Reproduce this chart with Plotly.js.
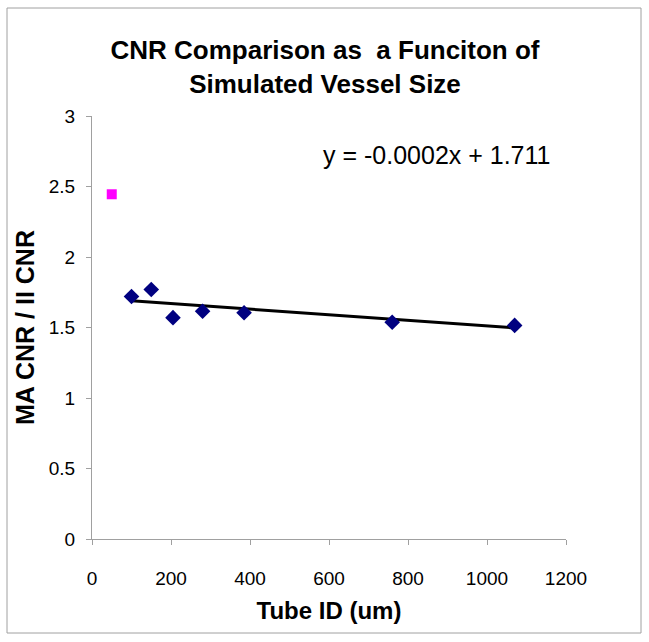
<!DOCTYPE html>
<html>
<head>
<meta charset="utf-8">
<script src="https://cdn.plot.ly/plotly-3.0.1.min.js"></script>
<style>html,body{margin:0;padding:0;background:#fff;}#chart{width:649px;height:642px;}</style>
</head>
<body>
<div id="chart"></div>
<script>
// Data
const tubeID = [100, 150, 205, 280, 385, 760, 1070];
const cnrRatio = [1.72, 1.77, 1.57, 1.615, 1.605, 1.537, 1.515];
const outlierX = [50];
const outlierY = [2.445];
const trendX = [100, 1070];
const trendY = [1.69, 1.497];
const equationText = 'y = -0.0002x + 1.711';
const xTicks = [0, 200, 400, 600, 800, 1000, 1200];
const yTicks = [0, 0.5, 1, 1.5, 2, 2.5, 3];

const font = 'Liberation Sans, Arial, sans-serif';

const traces = [
  {
    x: trendX, y: trendY, type: 'scatter', mode: 'lines',
    line: {color: '#000000', width: 3}, hoverinfo: 'skip', showlegend: false
  },
  {
    x: tubeID, y: cnrRatio, type: 'scatter', mode: 'markers',
    marker: {symbol: 'diamond', size: 12, color: '#000080', line: {width: 0}},
    showlegend: false
  },
  {
    x: outlierX, y: outlierY, type: 'scatter', mode: 'markers',
    marker: {symbol: 'square', size: 10, color: '#FF00FF', line: {width: 0}},
    showlegend: false
  }
];

const layout = {
  width: 649, height: 642,
  paper_bgcolor: '#ffffff', plot_bgcolor: '#ffffff',
  margin: {l: 92, r: 83, t: 116, b: 103},
  font: {family: font, color: '#000000'},
  title: {
    text: '<b>CNR Comparison as  a Funciton of<br>Simulated Vessel Size</b>',
    font: {family: font, size: 26, color: '#000000'},
    x: (325 - 92) / 474, xref: 'paper', xanchor: 'center',
    y: 1 - 59 / 642, yref: 'container', yanchor: 'middle'
  },
  xaxis: {
    range: [0, 1200], tickvals: xTicks, ticktext: xTicks.map(String),
    showgrid: false, zeroline: false, showline: true, linecolor: '#a0a0a0', linewidth: 1,
    ticks: 'outside', ticklen: 5, tickcolor: '#a0a0a0', ticklabelstandoff: 17,
    tickfont: {family: font, size: 19, color: '#000000'},
    title: {text: '<b>Tube ID (um)</b>', font: {family: font, size: 24, color: '#000000'}, standoff: 14}
  },
  yaxis: {
    range: [0, 3], tickvals: yTicks, ticktext: yTicks.map(String),
    showgrid: false, zeroline: false, showline: true, linecolor: '#a0a0a0', linewidth: 1,
    ticks: 'outside', ticklen: 5, tickcolor: '#a0a0a0', ticklabelstandoff: 7,
    tickfont: {family: font, size: 19, color: '#000000'},
    title: {text: '<b>MA CNR / II CNR</b>', font: {family: font, size: 25, color: '#000000'}, standoff: 7}
  },
  annotations: [{
    x: 871, y: 2.72, xref: 'x', yref: 'y', text: equationText, showarrow: false,
    font: {family: font, size: 25, color: '#000000'}, xanchor: 'center', yanchor: 'middle'
  }],
  shapes: [{
    type: 'rect', xref: 'paper', yref: 'paper',
    x0: (7 - 92) / 474, x1: (641 - 92) / 474,
    y0: (539 - 633) / 423, y1: (539 - 8) / 423,
    line: {color: '#a0a0a0', width: 1}, fillcolor: 'rgba(0,0,0,0)', layer: 'below'
  }]
};

Plotly.newPlot('chart', traces, layout, {displayModeBar: false, staticPlot: true});
</script>
</body>
</html>
